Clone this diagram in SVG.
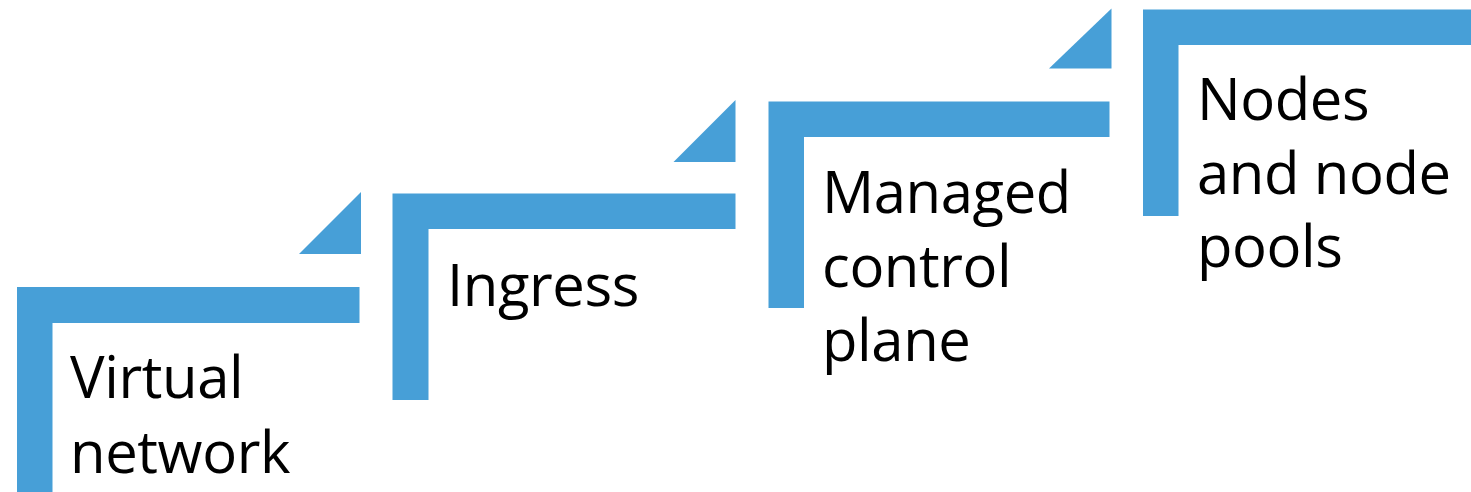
<svg xmlns="http://www.w3.org/2000/svg" width="1471" height="492" viewBox="0 0 1471 492">
<style>
.s{fill:#479FD7}
.t{font-family:"Open Sans","Noto Sans","DejaVu Sans",sans-serif;font-size:58px;letter-spacing:-0.4px;fill:#000}
</style>
<rect width="1471" height="492" fill="#fff"/>
<g id="step1">
<path class="s" d="M17 287H359.5V323H52.5V495H17Z"/>
<path class="s" d="M361 192V254H299Z"/>
<text class="t" x="70" y="398">Virtual</text>
<text class="t" x="70" y="473">network</text>
</g>
<g id="step2">
<path class="s" d="M392.5 193.5H735.5V229H428.5V400H392.5Z"/>
<path class="s" d="M735.5 100V162H673.5Z"/>
<text class="t" x="447" y="306">Ingress</text>
</g>
<g id="step3">
<path class="s" d="M768.5 101.5H1109.5V137H804V308H768.5Z"/>
<path class="s" d="M1111.5 8.5V68.5H1049Z"/>
<text class="t" x="822" y="213">Managed</text>
<text class="t" x="822" y="287">control</text>
<text class="t" x="822" y="361">plane</text>
</g>
<g id="step4">
<path class="s" d="M1143 9.5H1471V45H1178.5V216H1143Z"/>
<text class="t" x="1197" y="120">Nodes</text>
<text class="t" x="1197" y="194">and node</text>
<text class="t" x="1197" y="267">pools</text>
</g>
</svg>
